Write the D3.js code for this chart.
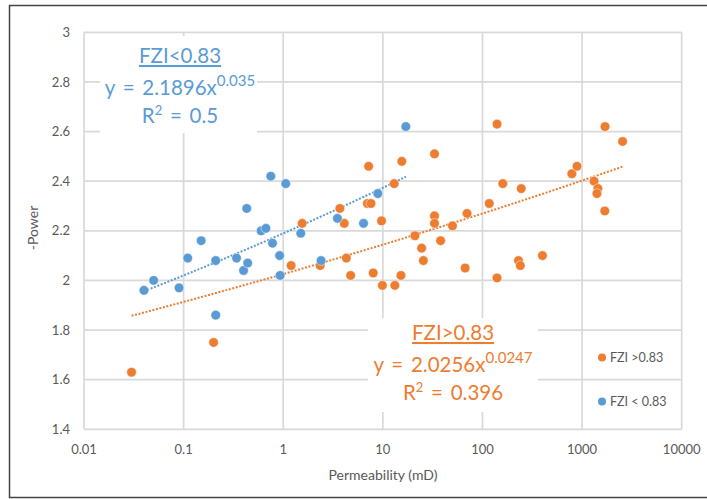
<!DOCTYPE html>
<html>
<head>
<meta charset="utf-8">
<script src="https://cdn.jsdelivr.net/npm/d3@7"></script>
<style>
  body { margin: 0; background: #fff; }
  svg { display: block; font-family: Lato, "Open Sans", sans-serif; }
</style>
</head>
<body>
<svg id="chart" width="707" height="499"></svg>
<script>
// FZI > 0.83 samples: permeability (mD) and -power
var orangePerm = [0.03, 0.2, 1.2, 1.55, 2.35, 3.7, 4.1, 4.3, 4.75, 7.0, 7.6, 7.2, 8, 9.7, 9.9,
    13, 13.2, 15.2, 15.5, 21, 24.5, 25.5, 33, 33, 33, 38, 50, 67, 70, 117, 140, 140, 160,
    230, 240, 245, 400, 790, 890, 1320, 1440, 1410, 1690, 1700, 2550];
var orangePower = [1.63, 1.75, 2.06, 2.23, 2.06, 2.29, 2.23, 2.09, 2.02, 2.31, 2.31, 2.46, 2.03, 2.24, 1.98,
    2.39, 1.98, 2.02, 2.48, 2.18, 2.13, 2.08, 2.51, 2.26, 2.23, 2.16, 2.22, 2.05, 2.27, 2.31, 2.63, 2.01, 2.39,
    2.08, 2.06, 2.37, 2.10, 2.43, 2.46, 2.40, 2.37, 2.35, 2.28, 2.62, 2.56];

// FZI < 0.83 samples
var bluePerm = [0.04, 0.05, 0.09, 0.11, 0.15, 0.21, 0.21, 0.34, 0.40, 0.43, 0.44, 0.60, 0.67, 0.75,
    0.78, 0.92, 0.93, 1.06, 1.5, 2.4, 3.5, 6.4, 8.9, 17];
var bluePower = [1.96, 2.00, 1.97, 2.09, 2.16, 2.08, 1.86, 2.09, 2.04, 2.29, 2.07, 2.20, 2.21, 2.42,
    2.15, 2.10, 2.02, 2.39, 2.19, 2.08, 2.25, 2.23, 2.35, 2.62];

// power-law trend coefficients (y = a * x^b)
var orangeFit = [2.0256, 0.0247];
var blueFit = [2.1896, 0.035];

var xTicks = [0.01, 0.1, 1, 10, 100, 1000, 10000];
var xTickLabels = ["0.01", "0.1", "1", "10", "100", "1000", "10000"];
var yTicks = [1.4, 1.6, 1.8, 2, 2.2, 2.4, 2.6, 2.8, 3];

var BLUE = "#5b9bd5", ORANGE = "#ed7d31", GRID = "#d9d9d9", TEXT = "#595959";

var svg = d3.select("#chart");

var x = d3.scaleLog().domain([0.01, 10000]).range([84, 681.7]);
var y = d3.scaleLinear().domain([1.4, 3]).range([429.3, 32.3]);

// outer frame
svg.append("rect")
    .attr("x", 9.5).attr("y", 5.5)
    .attr("width", 720).attr("height", 492)
    .attr("fill", "#fff")
    .attr("stroke", "#444").attr("stroke-width", 1.5);

// gridlines
var grid = svg.append("g");
grid.selectAll("line.v")
    .data(xTicks)
    .enter()
    .append("line")
    .attr("class", "v")
    .attr("x1", function (d) { return x(d); })
    .attr("x2", function (d) { return x(d); })
    .attr("y1", y(3)).attr("y2", y(1.4))
    .attr("stroke", GRID).attr("stroke-width", 1.7);
grid.selectAll("line.h")
    .data(yTicks)
    .enter()
    .append("line")
    .attr("class", "h")
    .attr("x1", x(0.01)).attr("x2", x(10000))
    .attr("y1", function (d) { return y(d); })
    .attr("y2", function (d) { return y(d); })
    .attr("stroke", GRID).attr("stroke-width", 1.7);

// tick labels
svg.append("g")
    .selectAll("text")
    .data(xTicks)
    .enter()
    .append("text")
    .attr("x", function (d) { return x(d); })
    .attr("y", 453.5)
    .attr("text-anchor", "middle")
    .attr("font-size", 13)
    .attr("fill", TEXT)
    .text(function (d, i) { return xTickLabels[i]; });
svg.append("g")
    .selectAll("text")
    .data(yTicks)
    .enter()
    .append("text")
    .attr("x", 70)
    .attr("y", function (d) { return y(d) + 4.6; })
    .attr("text-anchor", "end")
    .attr("font-size", 13)
    .attr("fill", TEXT)
    .text(function (d) { return d3.format("")(+d.toFixed(1)); });

// axis titles
svg.append("text")
    .attr("x", 383).attr("y", 480)
    .attr("text-anchor", "middle")
    .attr("font-size", 14)
    .attr("fill", TEXT)
    .text("Permeability (mD)");
svg.append("text")
    .attr("transform", "translate(38,228) rotate(-90)")
    .attr("text-anchor", "middle")
    .attr("font-size", 14)
    .attr("fill", TEXT)
    .text("-Power");

// white backing behind the equation labels
svg.append("rect").attr("x", 100).attr("y", 36).attr("width", 157).attr("height", 97).attr("fill", "#fff");
svg.append("rect").attr("x", 368).attr("y", 318).attr("width", 170).attr("height", 94).attr("fill", "#fff");

// trend lines sampled across each series' range
function trend(fit, lo, hi) {
    var pts = d3.range(0, 101).map(function (i) {
        var v = Math.exp(Math.log(lo) + (Math.log(hi) - Math.log(lo)) * i / 100);
        return [v, fit[0] * Math.pow(v, fit[1])];
    });
    return d3.line()
        .x(function (d) { return x(d[0]); })
        .y(function (d) { return y(d[1]); })(pts);
}
svg.append("path")
    .attr("d", trend(orangeFit, d3.min(orangePerm), d3.max(orangePerm)))
    .attr("fill", "none").attr("stroke", ORANGE)
    .attr("stroke-width", 2).attr("stroke-dasharray", "2,1.6");
svg.append("path")
    .attr("d", trend(blueFit, d3.min(bluePerm), d3.max(bluePerm)))
    .attr("fill", "none").attr("stroke", BLUE)
    .attr("stroke-width", 2).attr("stroke-dasharray", "2,1.6");

// markers
function dots(cls, xs, ys, color) {
    svg.append("g")
        .selectAll("circle")
        .data(xs)
        .enter()
        .append("circle")
        .attr("class", cls)
        .attr("cx", function (d) { return x(d); })
        .attr("cy", function (d, i) { return y(ys[i]); })
        .attr("r", 4.8)
        .attr("fill", color)
        .attr("stroke", "#fff").attr("stroke-opacity", 0.6).attr("stroke-width", 0.8);
}
dots("orange", orangePerm, orangePower, ORANGE);
dots("blue", bluePerm, bluePower, BLUE);

// equation labels
function equation(cx, top, color, title, coef, expo, r2) {
    var g = svg.append("g").attr("fill", color).attr("text-anchor", "middle");
    g.append("text")
        .attr("x", cx).attr("y", top)
        .attr("font-size", 20.5)
        .attr("text-decoration", "underline")
        .text(title);
    var eq = g.append("text")
        .attr("x", cx).attr("y", top + 32)
        .attr("font-size", 20.5)
        .attr("word-spacing", 2.5);
    eq.append("tspan").text("y = " + coef + "x");
    eq.append("tspan").attr("font-size", 15).attr("dy", -9).text(expo);
    var r = g.append("text")
        .attr("x", cx).attr("y", top + 60)
        .attr("font-size", 20.5)
        .attr("word-spacing", 2.5);
    r.append("tspan").text("R");
    r.append("tspan").attr("font-size", 13).attr("dy", -8).text("2");
    r.append("tspan").attr("dy", 8).text(" = " + r2);
}
equation(180, 63, BLUE, "FZI<0.83", "2.1896", "0.035", "0.5");
equation(453, 340, ORANGE, "FZI>0.83", "2.0256", "0.0247", "0.396");

// legend
var legend = [["FZI >0.83", ORANGE, 357.5], ["FZI < 0.83", BLUE, 401.5]];
var lg = svg.append("g")
    .selectAll("g")
    .data(legend)
    .enter()
    .append("g");
lg.append("circle")
    .attr("cx", 602).attr("cy", function (d) { return d[2]; })
    .attr("r", 4).attr("fill", function (d) { return d[1]; });
lg.append("text")
    .attr("x", 610).attr("y", function (d) { return d[2] + 4.4; })
    .attr("font-size", 12.5).attr("fill", TEXT)
    .text(function (d) { return d[0]; });
</script>
</body>
</html>
